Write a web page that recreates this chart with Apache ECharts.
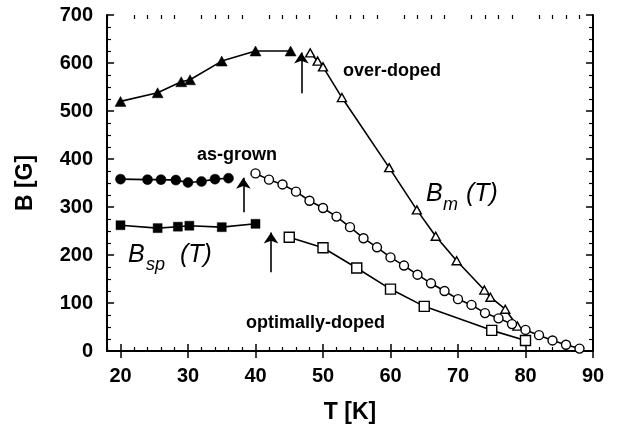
<!DOCTYPE html>
<html><head><meta charset="utf-8">
<script src="https://cdn.jsdelivr.net/npm/echarts@6/dist/echarts.min.js"></script>
<style>html,body{margin:0;padding:0;background:#fff}#c{width:618px;height:429px}</style>
</head><body><div id="c"></div>
<script>
// over-doped sample
const odFilledT = [20, 25.5, 29, 30.3, 35, 40, 45.2];
const odFilledB = [520, 538, 561, 565, 604, 625, 625];
const odOpenT = [48.1, 49.2, 50, 52.8, 59.8, 63.9, 66.7, 69.8, 73.9, 74.8, 77, 78.8];
const odOpenB = [621, 604, 592, 528, 382, 294, 239, 188, 127, 112, 87, 52];
// as-grown sample
const agFilledT = [20, 24, 26, 28.2, 30, 32, 34, 36];
const agFilledB = [358, 357, 357, 356, 351, 353, 358, 360];
const agOpenT = [40, 42, 44, 46, 48, 50, 52, 54, 56, 58, 60, 62, 64, 66, 68, 70, 72, 74, 76, 78, 80, 82, 84, 86, 88];
const agOpenB = [370, 357, 347, 332, 313, 298, 280, 258, 235, 216, 195, 178, 159, 141, 125, 108, 96, 79, 68, 56, 44, 33, 22, 13, 5];
// optimally-doped sample
const opFilledT = [20, 25.5, 28.5, 30.2, 35, 40];
const opFilledB = [262, 256, 259, 261, 258, 265];
const opOpenT = [45, 50, 55, 60, 65, 75, 80];
const opOpenB = [237, 215, 173, 129, 93, 43, 22];
// arrows (transition temperatures)
const arrowT = [46.8, 38.2, 42.3];
const arrowFrom = [537, 289, 164];
const arrowTo = [622, 361, 247];
// ticks
const xMajor = [20, 30, 40, 50, 60, 70, 80, 90];
const xMinor = [];
for (let v = 18; v <= 90; v += 2) if (v % 10 !== 0) xMinor.push(v);

const zip = (a, b) => a.map((v, i) => [v, b[i]]);
const black = '#000';
const tf = 'Liberation Sans, Arial, sans-serif';
const lab = {fontFamily: tf, fontWeight: 'bold', fontSize: 20, color: black};

function lineSeries(T, B, symbol, size, open) {
  return {
    type: 'line', xAxisIndex: 0, yAxisIndex: 0,
    data: zip(T, B), symbol: symbol, symbolSize: size, showSymbol: true,
    lineStyle: {color: black, width: 1.6},
    itemStyle: open ? {color: '#fff', borderColor: black, borderWidth: 1.4} : {color: black, borderColor: black, borderWidth: 0.5},
    animation: false, z: 3
  };
}

const xBase = {type: 'value', min: 18, max: 90, splitLine: {show: false}, gridIndex: 0};
const chart = echarts.init(document.getElementById('c'), null, {renderer: 'canvas'});
chart.setOption({
  animation: false,
  grid: {left: 107, right: 25, top: 15, bottom: 78, containLabel: false},
  xAxis: [
    Object.assign({}, xBase, {position: 'bottom',
      axisLine: {show: true, lineStyle: {color: black, width: 2}},
      axisTick: {show: true, inside: true, length: 7, lineStyle: {color: black, width: 1.5}, customValues: xMajor},
      axisLabel: Object.assign({show: true, margin: 15, customValues: xMajor}, lab),
      name: 'T [K]', nameLocation: 'middle', nameGap: 50,
      nameTextStyle: {fontFamily: tf, fontWeight: 'bold', fontSize: 23, color: black}}),
    Object.assign({}, xBase, {position: 'top',
      axisLine: {show: true, lineStyle: {color: black, width: 2}},
      axisTick: {show: true, inside: true, length: 7, lineStyle: {color: black, width: 1.5}, customValues: xMajor},
      axisLabel: {show: false}}),
    Object.assign({}, xBase, {position: 'bottom',
      axisLine: {show: false},
      axisTick: {show: true, inside: true, length: 4, lineStyle: {color: black, width: 1.2}, customValues: xMinor},
      axisLabel: {show: false}}),
    Object.assign({}, xBase, {position: 'top',
      axisLine: {show: false},
      axisTick: {show: true, inside: true, length: 4, lineStyle: {color: black, width: 1.2}, customValues: xMinor},
      axisLabel: {show: false}})
  ],
  yAxis: [
    {type: 'value', min: 0, max: 700, interval: 100, position: 'left', splitLine: {show: false},
      axisLine: {show: true, lineStyle: {color: black, width: 2}},
      axisTick: {show: true, inside: true, length: 7, lineStyle: {color: black, width: 1.5}},
      minorTick: {show: true, splitNumber: 4, length: 4, lineStyle: {color: black, width: 1.2}},
      axisLabel: Object.assign({margin: 14}, lab),
      name: 'B [G]', nameLocation: 'middle', nameGap: 70, nameRotate: 90,
      nameTextStyle: {fontFamily: tf, fontWeight: 'bold', fontSize: 23, color: black}},
    {type: 'value', min: 0, max: 700, interval: 100, position: 'right', splitLine: {show: false},
      axisLine: {show: true, lineStyle: {color: black, width: 2}},
      axisTick: {show: true, inside: true, length: 7, lineStyle: {color: black, width: 1.5}},
      minorTick: {show: true, splitNumber: 4, length: 4, lineStyle: {color: black, width: 1.2}},
      axisLabel: {show: false}}
  ],
  series: [
    lineSeries(odFilledT, odFilledB, 'triangle', [11, 10], false),
    lineSeries(odOpenT, odOpenB, 'triangle', [9, 8], true),
    lineSeries(agFilledT, agFilledB, 'circle', 10, false),
    lineSeries(agOpenT, agOpenB, 'circle', 9, true),
    lineSeries(opFilledT, opFilledB, 'rect', 9, false),
    lineSeries(opOpenT, opOpenB, 'rect', 10, true),
    {
      type: 'lines', coordinateSystem: 'cartesian2d', xAxisIndex: 0, yAxisIndex: 0,
      symbol: ['none', 'arrow'], symbolSize: 11,
      lineStyle: {color: black, width: 1.6, opacity: 1},
      data: arrowT.map((t, i) => ({coords: [[t, arrowFrom[i]], [t, arrowTo[i]]]})),
      animation: false, z: 4
    }
  ],
  graphic: [
    {type: 'text', left: 343, top: 62, style: {text: 'over-doped', font: 'bold 18px Liberation Sans, Arial, sans-serif', fill: black}},
    {type: 'text', left: 197, top: 146, style: {text: 'as-grown', font: 'bold 18px Liberation Sans, Arial, sans-serif', fill: black}},
    {type: 'text', left: 246, top: 314, style: {text: 'optimally-doped', font: 'bold 18px Liberation Sans, Arial, sans-serif', fill: black}},
    {type: 'text', left: 426, top: 182, style: {text: 'B', font: 'italic 25px Liberation Sans, Arial, sans-serif', fill: black}},
    {type: 'text', left: 443, top: 196, style: {text: 'm', font: 'italic 18px Liberation Sans, Arial, sans-serif', fill: black}},
    {type: 'text', left: 466, top: 182, style: {text: '(T)', font: 'italic 25px Liberation Sans, Arial, sans-serif', fill: black}},
    {type: 'text', left: 128, top: 243, style: {text: 'B', font: 'italic 25px Liberation Sans, Arial, sans-serif', fill: black}},
    {type: 'text', left: 146, top: 256, style: {text: 'sp', font: 'italic 18px Liberation Sans, Arial, sans-serif', fill: black}},
    {type: 'text', left: 180, top: 243, style: {text: '(T)', font: 'italic 25px Liberation Sans, Arial, sans-serif', fill: black}}
  ]
});
</script>
</body></html>
